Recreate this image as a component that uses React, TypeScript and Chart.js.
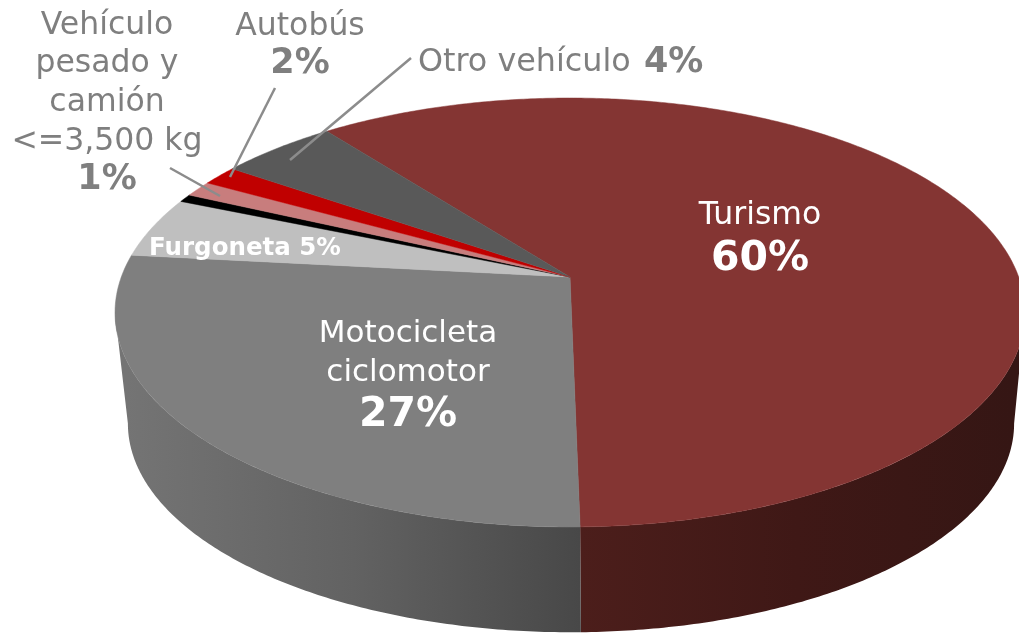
import React, { useEffect, useRef } from "react";
import { Chart, registerables } from "chart.js";

Chart.register(...registerables);

const categories = [
  "Turismo",
  "Motocicleta ciclomotor",
  "Furgoneta",
  "Vehículo pesado y camión >3,500 kg",
  "Vehículo pesado y camión <=3,500 kg",
  "Autobús",
  "Otro vehículo",
];
const shares = [60.2, 27, 4.6, 0.6, 1.2, 1.5, 4.9];
const topColors = ["#843533", "#7f7f7f", "#bfbfbf", "#000000", "#c87d7d", "#c00000", "#595959"];
const wallStops: (string[] | null)[] = [
  ["#4c1e1b", "#3f1816", "#351614"],
  ["#747474", "#626262", "#484848"],
  null,
  null,
  null,
  null,
  null,
];

const rotationDeg = -37.8;
const WIDTH = 1019;
const HEIGHT = 634;

const persp = -0.1655;
const topFace = { x: 570, y: 277, a: 448.7, b: 208.6 };
const baseFace = { x: 571, y: 389, a: 437, b: 203 };
const silhouette = 0.166;

function project(face: typeof topFace, angle: number) {
  const u = Math.cos(angle);
  const v = Math.sin(angle);
  const d = 1 + persp * v;
  return { x: face.x + (face.a * u) / d, y: face.y + (face.b * v) / d };
}

const threeDPie = {
  id: "threeDPie",
  beforeDatasetDraw(chart: any) {
    const ctx: CanvasRenderingContext2D = chart.ctx;
    const arcs = chart.getDatasetMeta(0).data;
    const stepsOf = (s: number, e: number) => Math.max(2, Math.ceil((e - s) / 0.01));

    arcs.forEach((arc: any, i: number) => {
      const stops = wallStops[i];
      if (!stops) return;
      const s = Math.max(arc.startAngle, silhouette);
      const e = Math.min(arc.endAngle, Math.PI - silhouette);
      const n = stepsOf(s, e);
      const seam = project(topFace, i === 0 ? arc.endAngle : arc.startAngle).x;
      const g = i === 0
        ? ctx.createLinearGradient(seam, 0, 1013, 0)
        : ctx.createLinearGradient(127, 0, seam, 0);
      stops.forEach((c, k) => g.addColorStop(k / (stops.length - 1), c));
      ctx.beginPath();
      for (let k = 0; k <= n; k++) {
        const p = project(topFace, s + ((e - s) * k) / n);
        if (k === 0) ctx.moveTo(p.x, p.y);
        else ctx.lineTo(p.x, p.y);
      }
      for (let k = n; k >= 0; k--) {
        const p = project(baseFace, s + ((e - s) * k) / n);
        ctx.lineTo(p.x, p.y);
      }
      ctx.closePath();
      ctx.fillStyle = g;
      ctx.fill();
    });

    arcs.forEach((arc: any) => {
      const s = arc.startAngle;
      const e = arc.endAngle;
      const n = stepsOf(s, e);
      ctx.beginPath();
      ctx.moveTo(topFace.x, topFace.y);
      for (let k = 0; k <= n; k++) {
        const p = project(topFace, s + ((e - s) * k) / n);
        ctx.lineTo(p.x, p.y);
      }
      ctx.closePath();
      ctx.fillStyle = arc.options.backgroundColor;
      ctx.strokeStyle = arc.options.backgroundColor;
      ctx.lineWidth = 0.5;
      ctx.fill();
      ctx.stroke();
    });
    return false;
  },
  afterDatasetsDraw(chart: any) {
    const ctx: CanvasRenderingContext2D = chart.ctx;
    const grey = "#7f7f7f";
    const face = '"DejaVu Sans"';
    ctx.save();
    ctx.strokeStyle = "#8c8c8c";
    ctx.lineWidth = 2.5;
    const leaders = [
      [275, 88, 230, 177],
      [411, 58, 290, 160],
      [170, 168, 220, 196],
    ];
    leaders.forEach(([x0, y0, x1, y1]) => {
      ctx.beginPath();
      ctx.moveTo(x0, y0);
      ctx.lineTo(x1, y1);
      ctx.stroke();
    });
    ctx.textBaseline = "middle";
    ctx.textAlign = "center";
    const put = (t: string, x: number, y: number, size: number, bold: boolean, color: string) => {
      ctx.font = `${bold ? "bold " : ""}${size}px ${face}`;
      ctx.fillStyle = color;
      ctx.fillText(t, x, y + 2);
    };
    put("Vehículo", 107, 24, 31.5, false, grey);
    put("pesado y", 107, 62, 31.5, false, grey);
    put("camión", 107, 101, 31.5, false, grey);
    put("<=3,500 kg", 107, 140, 31.5, false, grey);
    put("1%", 107, 178, 35, true, grey);
    put("Autobús", 300, 25, 31.5, false, grey);
    put("2%", 300, 62, 35, true, grey);
    ctx.textAlign = "left";
    put("Otro vehículo", 418, 61, 31.8, false, grey);
    put("4%", 644, 61, 35, true, grey);
    ctx.textAlign = "center";
    put("Turismo", 760, 214, 31.5, false, "#ffffff");
    put("60%", 760, 257, 41, true, "#ffffff");
    put("Motocicleta", 408, 332, 31, false, "#ffffff");
    put("ciclomotor", 408, 371, 31, false, "#ffffff");
    put("27%", 408, 413, 41, true, "#ffffff");
    put("Furgoneta 5%", 245, 247, 24.5, true, "#ffffff");
    ctx.restore();
  },
};

export default function App() {
  const ref = useRef<HTMLCanvasElement>(null);
  useEffect(() => {
    document.body.style.margin = "0";
    document.body.style.background = "#ffffff";
    const chart = new Chart(ref.current!, {
      type: "pie",
      data: {
        labels: categories,
        datasets: [{ data: shares, backgroundColor: topColors, borderWidth: 0 }],
      },
      options: {
        responsive: false,
        animation: false,
        rotation: rotationDeg,
        plugins: { legend: { display: false }, tooltip: { enabled: false } },
      },
      plugins: [threeDPie],
    } as any);
    return () => chart.destroy();
  }, []);
  return <canvas ref={ref} width={WIDTH} height={HEIGHT} style={{ display: "block", filter: "blur(0.5px)" }} />;
}
